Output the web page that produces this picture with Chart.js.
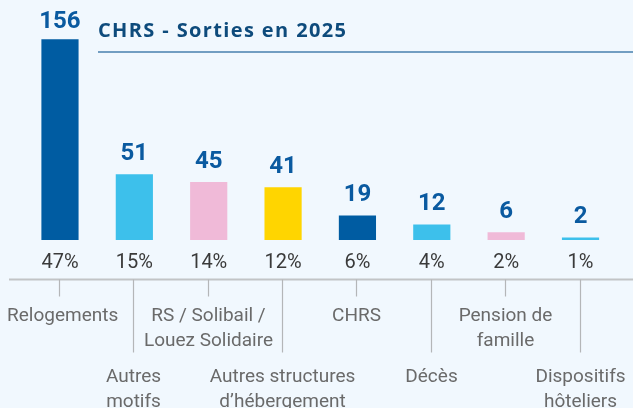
<!DOCTYPE html>
<html>
<head>
<meta charset="utf-8">
<script src="https://cdn.jsdelivr.net/npm/chart.js@4"></script>
<style>
  html, body { margin: 0; padding: 0; background: #f1f8fe; }
  #wrap { position: relative; width: 633px; height: 408px; }
</style>
</head>
<body>
<div id="wrap"><canvas id="c"></canvas></div>
<script>
const chartTitle = "CHRS - Sorties en 2025";
const categories = [
  ["Relogements"],
  ["Autres", "motifs"],
  ["RS / Solibail /", "Louez Solidaire"],
  ["Autres structures", "d\u2019h\u00e9bergement"],
  ["CHRS"],
  ["D\u00e9c\u00e8s"],
  ["Pension de", "famille"],
  ["Dispositifs", "h\u00f4teliers"]
];
const values = [156, 51, 45, 41, 19, 12, 6, 2];
const percentLabels = ["47%", "15%", "14%", "12%", "6%", "4%", "2%", "1%"];
const barColors = ["#005ca2", "#3dc0eb", "#f0bad8", "#ffd500", "#005ca2", "#3dc0eb", "#f0bad8", "#3dc0eb"];

const BOTTOM_PAD = 168;

const decorPlugin = {
  id: "decor",
  afterDatasetsDraw(chart) {
    const ctx = chart.ctx;
    const xs = chart.scales.x;
    const meta = chart.getDatasetMeta(0);
    const area = chart.chartArea;
    ctx.save();
    // title
    ctx.fillStyle = "#0e4b7c";
    ctx.font = "bold 20px 'Open Sans', sans-serif";
    ctx.textAlign = "left";
    ctx.textBaseline = "alphabetic";
    const w0 = ctx.measureText(chartTitle).width;
    const targetW = 248;
    if ("letterSpacing" in ctx) {
      ctx.letterSpacing = Math.max(0, (targetW - w0) / (chartTitle.length - 1)).toFixed(2) + "px";
    }
    ctx.fillText(chartTitle, 98, 36.5);
    if ("letterSpacing" in ctx) ctx.letterSpacing = "0px";
    ctx.strokeStyle = "#729ec2";
    ctx.lineWidth = 2;
    ctx.beginPath();
    ctx.moveTo(98, 52);
    ctx.lineTo(633, 52);
    ctx.stroke();

    // value labels and percentages
    meta.data.forEach((bar, i) => {
      const x = bar.x;
      ctx.textAlign = "center";
      ctx.fillStyle = "#0a5aa0";
      ctx.font = "bold 24px Roboto, sans-serif";
      const by = Math.max(bar.y - 14.5, 28);
      ctx.fillText(String(values[i]), x, by);
      ctx.fillStyle = "#3a3a3a";
      ctx.font = "20px Roboto, sans-serif";
      ctx.fillText(percentLabels[i], x, area.bottom + 28);
    });

    // axis line
    const axisY = area.bottom + 39.5;
    ctx.strokeStyle = "#c2c4c6";
    ctx.lineWidth = 2;
    ctx.beginPath();
    ctx.moveTo(9, axisY);
    ctx.lineTo(633, axisY);
    ctx.stroke();

    // ticks and category labels
    ctx.font = "19px Roboto, sans-serif";
    ctx.fillStyle = "#6a6a6a";
    categories.forEach((lines, i) => {
      const x = Math.round(xs.getPixelForValue(i)) - 0.5;
      const odd = i % 2 === 1;
      ctx.strokeStyle = "#b4b6b8";
      ctx.lineWidth = 1.2;
      ctx.beginPath();
      ctx.moveTo(x, axisY);
      ctx.lineTo(x, axisY + (odd ? 73 : 17));
      ctx.stroke();
      const firstBase = odd ? axisY + 102 : axisY + 41;
      lines.forEach((t, k) => {
        const w = ctx.measureText(t).width;
        let cx = x;
        if (cx - w / 2 < 7) cx = 7 + w / 2;
        if (cx + w / 2 > 633) cx = 633 - w / 2;
        ctx.textAlign = "center";
        ctx.fillText(t, cx, firstBase + k * 25.5);
      });
    });
    ctx.restore();
  }
};

new Chart(document.getElementById("c"), {
  type: "bar",
  data: {
    labels: categories.map(l => l.join(" ")),
    datasets: [{
      data: values,
      backgroundColor: barColors,
      borderWidth: 0,
      barPercentage: 0.5,
      categoryPercentage: 1.0
    }]
  },
  options: {
    responsive: true,
    maintainAspectRatio: false,
    animation: false,
    events: [],
    layout: { padding: { left: 22.8, right: 15.3, top: 34, bottom: BOTTOM_PAD } },
    plugins: { legend: { display: false }, tooltip: { enabled: false }, title: { display: false } },
    scales: {
      x: { display: false, grid: { display: false } },
      y: { display: false, min: 0, max: 160, grid: { display: false } }
    }
  },
  plugins: [decorPlugin]
});
</script>
</body>
</html>
